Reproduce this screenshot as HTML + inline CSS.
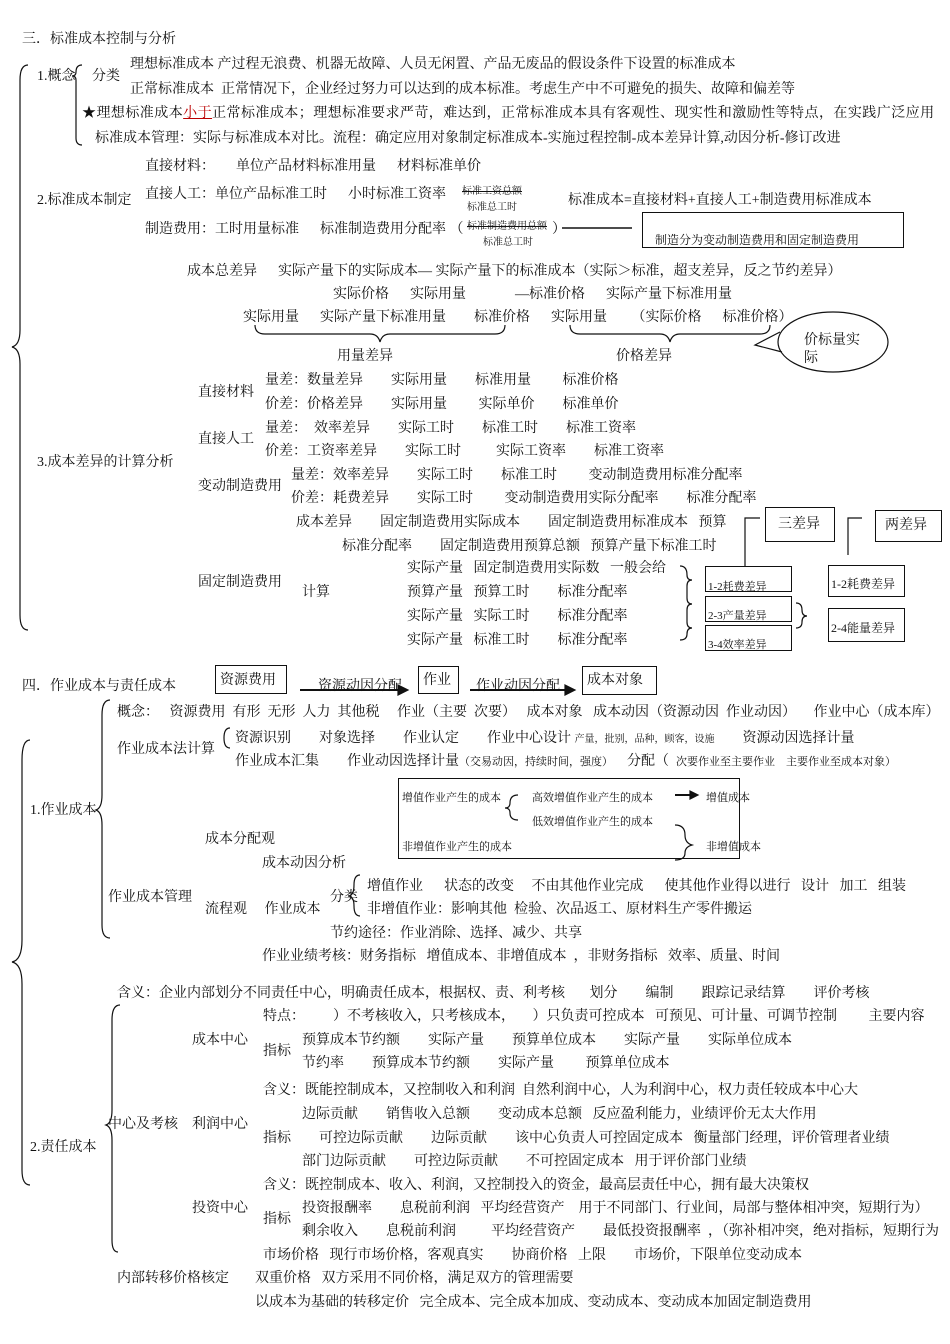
<!DOCTYPE html>
<html><head><meta charset="utf-8"><style>
body{margin:0;background:#fff;}
#p{position:relative;width:950px;height:1344px;overflow:hidden;font-family:"Liberation Serif","Noto Serif CJK SC","Noto Sans CJK SC",serif;font-size:14px;color:#111;}
.t{position:absolute;white-space:pre;line-height:18px;margin-top:2px;}
.s{font-size:10px;}
.st{text-decoration:line-through;}
.b{position:absolute;border:1.3px solid #111;}
svg{position:absolute;left:0;top:0;}
</style></head><body><div id="p">
<svg width="950" height="1344" fill="none" stroke="#111" stroke-width="1.2">
<path d="M28 65 Q20 65 20 80 L20 330 Q20 345 12 347 Q20 349 20 364 L20 615 Q20 630 28 630"/>
<path d="M82 65 Q76 65 76 72 L76 72 Q76 76 72 76 Q76 76 76 80 L76 138 Q76 145 82 145"/>
<path d="M255 325 Q255 334 265 334 L370 334 Q378 334 380 342 Q382 334 390 334 L495 334 Q505 334 505 325"/>
<path d="M570 325 Q570 334 580 334 L660 334 Q668 334 670 342 Q672 334 680 334 L760 334 Q770 334 770 325"/>
<ellipse cx="833" cy="342" rx="55" ry="30"/>
<path d="M780 332 L755 345 L782 352"/>
<path d="M562 228 L632 228" stroke-width="1.6"/>
<path d="M680 566 Q687 566 687 575 Q687 580 692 580 Q687 580 687 586 L687 598 Q687 604 692 604 Q687 604 687 610 L687 622 Q687 628 692 628 Q687 628 687 634 Q687 640 680 640"/>
<path d="M796 603 Q802 603 802 610 Q802 616 807 616 Q802 616 802 622 Q802 628 796 628"/>
<path d="M745 566 L745 518 L760 518"/>
<path d="M848 555 L848 518 L862 518"/>
<path d="M30 740 Q22 740 22 760 L22 940 Q22 960 12 962 Q22 964 22 984 L22 1170 Q22 1185 30 1185"/>
<path d="M110 700 Q102 700 102 715 L102 795 Q102 808 96 810 Q102 812 102 825 L102 925 Q102 938 110 938"/>
<path d="M230 728 Q224 728 224 738 Q224 748 230 748"/>
<path d="M300 690 L398 690" stroke-width="2"/><path d="M398 685 L408 690 L398 695Z" fill="#111"/>
<path d="M470 690 L565 690" stroke-width="2"/><path d="M565 685 L575 690 L565 695Z" fill="#111"/>
<path d="M518 795 Q510 795 510 803 Q510 808 505 808 Q510 808 510 813 Q510 820 518 820"/>
<path d="M675 795 L692 795" stroke-width="2"/><path d="M690 791 L698 795 L690 799Z" fill="#111"/>
<path d="M675 825 Q685 825 685 835 Q685 843 692 845 Q685 847 685 853 Q685 860 675 860"/>
<path d="M360 875 Q354 875 354 885 Q354 896 348 896 Q354 896 354 906 Q354 916 360 916"/>
<path d="M120 1005 Q112 1005 112 1020 L112 1110 Q112 1123 106 1125 Q112 1127 112 1140 L112 1240 Q112 1252 118 1252"/>
</svg>
<div class="b" style="left:642px;top:212px;width:260px;height:34px"></div>
<div class="b" style="left:765px;top:507px;width:68px;height:33px"></div>
<div class="b" style="left:875px;top:510px;width:65px;height:30px"></div>
<div class="b" style="left:705px;top:566px;width:85px;height:24px"></div>
<div class="b" style="left:705px;top:596px;width:85px;height:24px"></div>
<div class="b" style="left:705px;top:625px;width:85px;height:24px"></div>
<div class="b" style="left:828px;top:565px;width:75px;height:30px"></div>
<div class="b" style="left:828px;top:608px;width:75px;height:32px"></div>
<div class="b" style="left:215px;top:665px;width:70px;height:27px"></div>
<div class="b" style="left:418px;top:666px;width:39px;height:26px"></div>
<div class="b" style="left:582px;top:666px;width:73px;height:27px"></div>
<div class="b" style="left:398px;top:778px;width:340px;height:79px"></div>

<div class="t" style="left:22px;top:29px">三．标准成本控制与分析</div>
<div class="t" style="left:130px;top:54px">理想标准成本 产过程无浪费、机器无故障、人员无闲置、产品无废品的假设条件下设置的标准成本</div>
<div class="t" style="left:37px;top:66px">1.概念</div><div class="t" style="left:92px;top:66px">分类</div>
<div class="t" style="left:130px;top:79px">正常标准成本  正常情况下，企业经过努力可以达到的成本标准。考虑生产中不可避免的损失、故障和偏差等</div>
<div class="t" style="left:82px;top:103px;letter-spacing:0.45px">★理想标准成本<span style="color:#b00;text-decoration:underline">小于</span>正常标准成本；理想标准要求严苛，难达到，正常标准成本具有客观性、现实性和激励性等特点，在实践广泛应用</div>
<div class="t" style="left:95px;top:128px">标准成本管理：实际与标准成本对比。流程：确定应用对象制定标准成本-实施过程控制-成本差异计算,动因分析-修订改进</div>
<div class="t" style="left:145px;top:156px">直接材料：      单位产品材料标准用量      材料标准单价</div>
<div class="t" style="left:145px;top:184px">直接人工：单位产品标准工时      小时标准工资率</div>
<div class="t" style="left:37px;top:190px">2.标准成本制定</div>
<div class="t s st" style="left:462px;top:181px">标准工资总额</div><div class="t s" style="left:467px;top:197px">标准总工时</div>
<div class="t" style="left:568px;top:190px">标准成本=直接材料+直接人工+制造费用标准成本</div>
<div class="t" style="left:145px;top:219px">制造费用：工时用量标准      标准制造费用分配率 （</div>
<div class="t s st" style="left:467px;top:216px">标准制造费用总额</div><div class="t" style="left:552px;top:219px">）</div>
<div class="t s" style="left:483px;top:232px">标准总工时</div>
<div class="t" style="left:655px;top:229px;font-size:12px">制造分为变动制造费用和固定制造费用</div>
<div class="t" style="left:187px;top:261px">成本总差异      实际产量下的实际成本— 实际产量下的标准成本（实际＞标准，超支差异，反之节约差异）</div>
<div class="t" style="left:333px;top:284px">实际价格      实际用量</div>
<div class="t" style="left:515px;top:284px">—标准价格      实际产量下标准用量</div>
<div class="t" style="left:243px;top:307px">实际用量      实际产量下标准用量        标准价格      实际用量       （实际价格      标准价格）</div>
<div class="t" style="left:337px;top:346px">用量差异</div><div class="t" style="left:616px;top:346px">价格差异</div>
<div class="t" style="left:804px;top:330px;width:60px;white-space:normal">价标量实际</div>
<div class="t" style="left:265px;top:370px">量差：数量差异        实际用量        标准用量         标准价格</div>
<div class="t" style="left:198px;top:382px">直接材料</div>
<div class="t" style="left:265px;top:394px">价差：价格差异        实际用量         实际单价        标准单价</div>
<div class="t" style="left:265px;top:418px">量差：  效率差异        实际工时        标准工时        标准工资率</div>
<div class="t" style="left:198px;top:429px">直接人工</div>
<div class="t" style="left:265px;top:441px">价差：工资率差异        实际工时          实际工资率        标准工资率</div>
<div class="t" style="left:37px;top:452px">3.成本差异的计算分析</div>
<div class="t" style="left:291px;top:465px">量差：效率差异        实际工时        标准工时         变动制造费用标准分配率</div>
<div class="t" style="left:198px;top:476px">变动制造费用</div>
<div class="t" style="left:291px;top:488px">价差：耗费差异        实际工时         变动制造费用实际分配率        标准分配率</div>
<div class="t" style="left:296px;top:512px">成本差异        固定制造费用实际成本        固定制造费用标准成本   预算</div>
<div class="t" style="left:342px;top:536px">标准分配率        固定制造费用预算总额   预算产量下标准工时</div>
<div class="t" style="left:407px;top:558px">实际产量   固定制造费用实际数   一般会给</div>
<div class="t" style="left:198px;top:572px">固定制造费用</div>
<div class="t" style="left:302px;top:582px">计算</div>
<div class="t" style="left:407px;top:582px">预算产量   预算工时        标准分配率</div>
<div class="t" style="left:407px;top:606px">实际产量   实际工时        标准分配率</div>
<div class="t" style="left:407px;top:630px">实际产量   标准工时        标准分配率</div>
<div class="t" style="left:778px;top:514px">三差异</div><div class="t" style="left:885px;top:515px">两差异</div>
<div class="t" style="left:708px;top:576px;font-size:11px">1-2耗费差异</div>
<div class="t" style="left:708px;top:605px;font-size:11px">2-3产量差异</div>
<div class="t" style="left:708px;top:634px;font-size:11px">3-4效率差异</div>
<div class="t" style="left:831px;top:573px;font-size:12px">1-2耗费差异</div>
<div class="t" style="left:831px;top:617px;font-size:12px">2-4能量差异</div>

<div class="t" style="left:22px;top:676px">四．作业成本与责任成本</div>
<div class="t" style="left:220px;top:670px">资源费用</div>
<div class="t" style="left:318px;top:676px">资源动因分配</div>
<div class="t" style="left:423px;top:670px">作业</div>
<div class="t" style="left:476px;top:676px">作业动因分配</div>
<div class="t" style="left:587px;top:670px">成本对象</div>
<div class="t" style="left:117px;top:702px">概念：   资源费用  有形  无形  人力  其他税     作业（主要  次要）   成本对象   成本动因（资源动因  作业动因）     作业中心（成本库）</div>
<div class="t" style="left:117px;top:739px">作业成本法计算</div>
<div class="t" style="left:235px;top:728px">资源识别        对象选择        作业认定        作业中心设计 <span style="font-size:10px">产量，批别，品种，顾客，设施</span>        资源动因选择计量</div>
<div class="t" style="left:235px;top:751px">作业成本汇集        作业动因选择计量<span style="font-size:11px">（交易动因，持续时间，强度）</span>    分配（  <span style="font-size:11px">次要作业至主要作业    主要作业至成本对象）</span></div>
<div class="t" style="left:402px;top:787px;font-size:11px">增值作业产生的成本</div>
<div class="t" style="left:532px;top:787px;font-size:11px">高效增值作业产生的成本</div>
<div class="t" style="left:706px;top:787px;font-size:11px">增值成本</div>
<div class="t" style="left:532px;top:811px;font-size:11px">低效增值作业产生的成本</div>
<div class="t" style="left:402px;top:836px;font-size:11px">非增值作业产生的成本</div>
<div class="t" style="left:706px;top:836px;font-size:11px">非增值成本</div>
<div class="t" style="left:30px;top:800px">1.作业成本</div>
<div class="t" style="left:205px;top:829px">成本分配观</div>
<div class="t" style="left:262px;top:853px">成本动因分析</div>
<div class="t" style="left:367px;top:876px">增值作业      状态的改变     不由其他作业完成      使其他作业得以进行   设计   加工   组装</div>
<div class="t" style="left:108px;top:887px">作业成本管理</div><div class="t" style="left:330px;top:887px">分类</div>
<div class="t" style="left:205px;top:899px">流程观     作业成本</div>
<div class="t" style="left:367px;top:899px">非增值作业：影响其他  检验、次品返工、原材料生产零件搬运</div>
<div class="t" style="left:330px;top:923px">节约途径：作业消除、选择、减少、共享</div>
<div class="t" style="left:262px;top:946px">作业业绩考核：财务指标   增值成本、非增值成本  ，非财务指标   效率、质量、时间</div>
<div class="t" style="left:117px;top:983px">含义：企业内部划分不同责任中心，明确责任成本，根据权、责、利考核       划分        编制        跟踪记录结算        评价考核</div>
<div class="t" style="left:263px;top:1006px">特点：        ）不考核收入，只考核成本，     ）只负责可控成本   可预见、可计量、可调节控制         主要内容</div>
<div class="t" style="left:192px;top:1030px">成本中心</div>
<div class="t" style="left:302px;top:1030px">预算成本节约额        实际产量        预算单位成本        实际产量        实际单位成本</div>
<div class="t" style="left:263px;top:1041px">指标</div>
<div class="t" style="left:302px;top:1053px">节约率        预算成本节约额        实际产量         预算单位成本</div>
<div class="t" style="left:263px;top:1080px">含义：既能控制成本，又控制收入和利润  自然利润中心，人为利润中心，权力责任较成本中心大</div>
<div class="t" style="left:302px;top:1104px">边际贡献        销售收入总额        变动成本总额   反应盈利能力，业绩评价无太大作用</div>
<div class="t" style="left:108px;top:1114px">中心及考核</div><div class="t" style="left:192px;top:1114px">利润中心</div>
<div class="t" style="left:263px;top:1128px">指标        可控边际贡献        边际贡献        该中心负责人可控固定成本   衡量部门经理，评价管理者业绩</div>
<div class="t" style="left:30px;top:1137px">2.责任成本</div>
<div class="t" style="left:302px;top:1151px">部门边际贡献        可控边际贡献        不可控固定成本   用于评价部门业绩</div>
<div class="t" style="left:263px;top:1175px">含义：既控制成本、收入、利润，又控制投入的资金，最高层责任中心，拥有最大决策权</div>
<div class="t" style="left:192px;top:1198px">投资中心</div>
<div class="t" style="left:302px;top:1198px">投资报酬率        息税前利润   平均经营资产    用于不同部门、行业间，局部与整体相冲突，短期行为）</div>
<div class="t" style="left:263px;top:1209px">指标</div>
<div class="t" style="left:302px;top:1221px">剩余收入        息税前利润          平均经营资产        最低投资报酬率  ，（弥补相冲突，绝对指标，短期行为</div>
<div class="t" style="left:263px;top:1245px">市场价格   现行市场价格，客观真实        协商价格   上限        市场价，下限单位变动成本</div>
<div class="t" style="left:117px;top:1268px">内部转移价格核定</div>
<div class="t" style="left:255px;top:1268px">双重价格   双方采用不同价格，满足双方的管理需要</div>
<div class="t" style="left:255px;top:1292px">以成本为基础的转移定价   完全成本、完全成本加成、变动成本、变动成本加固定制造费用</div>
</div></body></html>
